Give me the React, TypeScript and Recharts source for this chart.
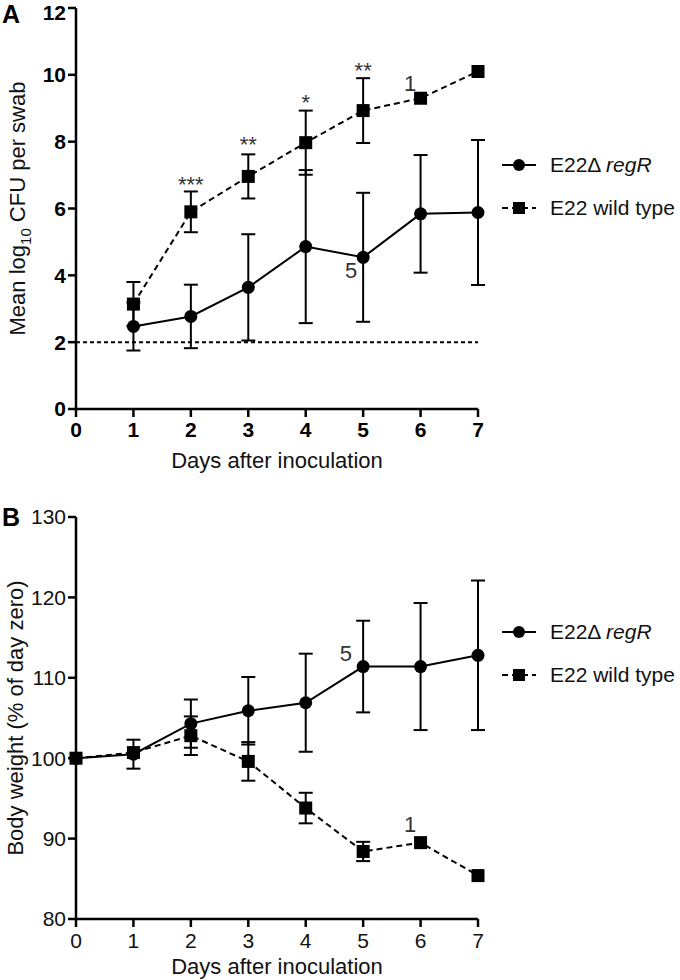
import React from "react";
import { ErrorBar, Line, LineChart, ReferenceDot, ReferenceLine, XAxis, YAxis } from "recharts";

const days = [0, 1, 2, 3, 4, 5, 6, 7];

// panel A: mean log10 CFU per swab
const regRLog = [null, 2.47, 2.77, 3.64, 4.86, 4.54, 5.84, 5.88];
const regRLogErr = [null, 0.72, 0.95, 1.59, 2.29, 1.93, 1.76, 2.17];
const wtLog = [null, 3.14, 5.9, 6.96, 7.97, 8.93, 9.3, 10.1];
const wtLogErr = [null, 0.66, 0.61, 0.66, 0.96, 0.97, null, null];
const logTicks = [0, 2, 4, 6, 8, 10, 12];
const detectionLimit = 2;

// panel B: body weight, % of day zero
const regRWeight = [100, 100.5, 104.3, 105.9, 106.9, 111.4, 111.4, 112.8];
const regRWeightErr = [null, 1.8, 3.0, 4.2, 6.1, 5.7, 7.9, 9.3];
const wtWeight = [100, 100.7, 102.8, 99.6, 93.8, 88.4, 89.5, 85.4];
const wtWeightErr = [null, null, 2.4, 2.4, 1.9, 1.2, null, null];
const weightTicks = [80, 90, 100, 110, 120, 130];

// annotations (significance stars, surviving animal counts)
const noteDaysA = [2, 3, 4, 5, 5.82, 4.79];
const noteValuesA = [6.74, 7.93, 9.19, 10.15, 9.76, 4.16];
const noteTextsA = ["***", "**", "*", "**", "1", "5"];
const noteDaysB = [4.7, 5.82];
const noteValuesB = [113.1, 91.8];
const noteTextsB = ["5", "1"];

const FONT = "'Liberation Sans', Arial, sans-serif";

const dataA = days.map((day, i) => ({
  day,
  regR: regRLog[i],
  regRErr: regRLogErr[i],
  wt: wtLog[i],
  wtErr: wtLogErr[i],
}));

const dataB = days.map((day, i) => ({
  day,
  regR: regRWeight[i],
  regRErr: regRWeightErr[i],
  wt: wtWeight[i],
  wtErr: wtWeightErr[i],
}));

const Square = (props: any) => {
  const { cx, cy, index } = props;
  if (cx == null || cy == null || props.value == null) return <g key={`sq-${index}`} />;
  return <rect key={`sq-${index}`} x={cx - 6.5} y={cy - 6.5} width={13} height={13} fill="#000" />;
};

const Circle = (props: any) => {
  const { cx, cy, index } = props;
  if (cx == null || cy == null || props.value == null) return <g key={`ci-${index}`} />;
  return <circle key={`ci-${index}`} cx={cx} cy={cy} r={6.5} fill="#000" />;
};

function LegendBox({ top }: { top: number }) {
  const row = {
    display: "flex",
    alignItems: "center",
    height: 43,
    fontSize: 21,
    color: "#111",
    whiteSpace: "nowrap",
  } as const;
  return (
    <div style={{ position: "absolute", left: 502, top, width: 178, fontFamily: FONT }}>
      <div style={row}>
        <svg width={36} height={14} style={{ marginRight: 12, flexShrink: 0 }}>
          <line x1={0} x2={34} y1={7} y2={7} stroke="#000" strokeWidth={2} />
          <circle cx={17} cy={7} r={6} fill="#000" />
        </svg>
        <span>
          E22Δ <i>regR</i>
        </span>
      </div>
      <div style={row}>
        <svg width={36} height={14} style={{ marginRight: 12, flexShrink: 0 }}>
          <line x1={0} x2={34} y1={7} y2={7} stroke="#000" strokeWidth={2} strokeDasharray="6 4" />
          <rect x={11} y={1} width={12} height={12} fill="#000" />
        </svg>
        <span>E22 wild type</span>
      </div>
    </div>
  );
}

const axisStroke = { stroke: "#000", strokeWidth: 2.5 };

// axis titles placed under / beside the plot area
const xTitle = (baselineGap: number) => (p: any) => {
  const vb = p.viewBox || { x: 76, y: 409, width: 402, height: 30 };
  return (
    <text x={vb.x + vb.width / 2} y={vb.y + baselineGap} textAnchor="middle" fontSize={22} fill="#111" fontFamily={FONT}>
      Days after inoculation
    </text>
  );
};

const yTitle = (children: React.ReactNode, baselineX: number) => (p: any) => {
  const vb = p.viewBox || { y: 8, height: 401 };
  const cy = vb.y + vb.height / 2;
  return (
    <text
      x={baselineX}
      y={cy}
      transform={`rotate(-90 ${baselineX} ${cy})`}
      textAnchor="middle"
      fontSize={22}
      fill="#111"
      fontFamily={FONT}
    >
      {children}
    </text>
  );
};

export default function App() {
  return (
    <div style={{ position: "absolute", left: 0, top: 0, width: 680, height: 980, background: "#fff", fontFamily: FONT }}>
      <div style={{ position: "absolute", left: 2, top: 0, fontSize: 25, fontWeight: "bold" }}>A</div>
      <div style={{ position: "absolute", left: 2, top: 503, fontSize: 25, fontWeight: "bold" }}>B</div>

      <div style={{ position: "absolute", left: 0, top: 0 }}>
        <LineChart width={680} height={480} data={dataA} margin={{ top: 8, right: 202, bottom: 41, left: 36 }}>
          <XAxis
            dataKey="day"
            type="number"
            domain={[0, 7]}
            ticks={days}
            height={30}
            axisLine={axisStroke}
            tickLine={axisStroke}
            tickSize={8}
            tickMargin={5}
            tick={{ fontSize: 21, fontWeight: "bold", fill: "#000", fontFamily: FONT }}
            label={{ content: xTitle(59) }}
          />
          <YAxis
            type="number"
            domain={[0, 12]}
            ticks={logTicks}
            width={40}
            axisLine={axisStroke}
            tickLine={axisStroke}
            tickSize={8}
            tick={{ fontSize: 21, fontWeight: "bold", fill: "#000", fontFamily: FONT }}
            label={{
              content: yTitle(
                <>
                  Mean log
                  <tspan fontSize={15} dy={6}>10</tspan>
                  <tspan dy={-6}> CFU per swab</tspan>
                </>,
                25
              ),
            }}
          />
          <ReferenceLine y={detectionLimit} stroke="#000" strokeWidth={2} strokeDasharray="4 3" />
          <Line
            dataKey="wt"
            stroke="#000"
            strokeWidth={2}
            strokeDasharray="6 4"
            dot={Square}
            activeDot={false}
            isAnimationActive={false}
          >
            <ErrorBar dataKey="wtErr" width={7} stroke="#000" strokeWidth={2} direction="y" />
          </Line>
          <Line
            dataKey="regR"
            stroke="#000"
            strokeWidth={2}
            dot={Circle}
            activeDot={false}
            isAnimationActive={false}
          >
            <ErrorBar dataKey="regRErr" width={7} stroke="#000" strokeWidth={2} direction="y" />
          </Line>
          {noteTextsA.map((t, i) => (
            <ReferenceDot
              key={`na-${i}`}
              x={noteDaysA[i]}
              y={noteValuesA[i]}
              r={0}
              fill="none"
              stroke="none"
              label={{ value: t, position: "center", fontSize: 22, fill: "#333", fontFamily: FONT }}
            />
          ))}
        </LineChart>
      </div>

      <div style={{ position: "absolute", left: 0, top: 490 }}>
        <LineChart width={680} height={490} data={dataB} margin={{ top: 27, right: 202, bottom: 31, left: 36 }}>
          <XAxis
            dataKey="day"
            type="number"
            domain={[0, 7]}
            ticks={days}
            height={30}
            axisLine={axisStroke}
            tickLine={axisStroke}
            tickSize={8}
            tickMargin={6}
            tick={{ fontSize: 21, fill: "#111", fontFamily: FONT }}
            label={{ content: xTitle(55) }}
          />
          <YAxis
            type="number"
            domain={[80, 130]}
            ticks={weightTicks}
            width={40}
            axisLine={axisStroke}
            tickLine={axisStroke}
            tickSize={8}
            tick={{ fontSize: 21, fill: "#111", fontFamily: FONT }}
            label={{ content: yTitle("Body weight (% of day zero)", 23) }}
          />
          <Line
            dataKey="wt"
            stroke="#000"
            strokeWidth={2}
            strokeDasharray="6 4"
            dot={Square}
            activeDot={false}
            isAnimationActive={false}
          >
            <ErrorBar dataKey="wtErr" width={7} stroke="#000" strokeWidth={2} direction="y" />
          </Line>
          <Line
            dataKey="regR"
            stroke="#000"
            strokeWidth={2}
            dot={Circle}
            activeDot={false}
            isAnimationActive={false}
          >
            <ErrorBar dataKey="regRErr" width={7} stroke="#000" strokeWidth={2} direction="y" />
          </Line>
          {noteTextsB.map((t, i) => (
            <ReferenceDot
              key={`nb-${i}`}
              x={noteDaysB[i]}
              y={noteValuesB[i]}
              r={0}
              fill="none"
              stroke="none"
              label={{ value: t, position: "center", fontSize: 22, fill: "#333", fontFamily: FONT }}
            />
          ))}
        </LineChart>
      </div>

      <LegendBox top={143} />
      <LegendBox top={610} />
    </div>
  );
}
